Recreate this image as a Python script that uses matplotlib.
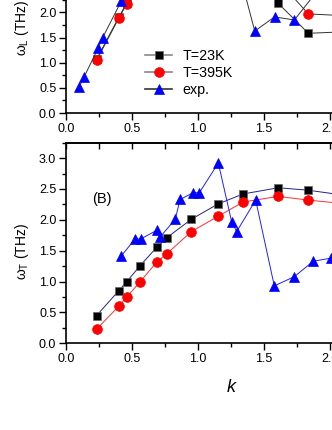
import matplotlib
matplotlib.use("Agg")
import matplotlib.pyplot as plt
from matplotlib.lines import Line2D
from matplotlib.ticker import MultipleLocator

plt.rcParams['font.family'] = ['Liberation Sans', 'DejaVu Sans']
plt.rcParams['mathtext.fontset'] = 'custom'
plt.rcParams['mathtext.rm'] = 'Liberation Sans'
plt.rcParams['mathtext.it'] = 'Liberation Sans:italic'

# ---- data (off-screen parts estimated) ----
# (A) longitudinal branch
k_sim_L = [0.232, 0.399, 0.46, 0.563, 0.689, 0.763, 0.95, 1.154, 1.343, 1.608, 1.836, 2.07, 2.3]
wL_23K = [1.07, 1.90, 2.19, 2.60, 3.00, 3.15, 3.35, 3.35, 3.10, 2.18, 1.585, 1.61, 1.95]
wL_395K = [1.05, 1.88, 2.17, 2.55, 2.90, 3.05, 3.25, 3.20, 2.95, 2.63, 1.97, 1.94, 2.1]
k_exp_L = [0.098, 0.136, 0.245, 0.278, 0.42, 0.57, 0.72, 0.90, 1.10, 1.31, 1.43, 1.58, 1.73, 1.95, 2.15]
wL_exp = [0.51, 0.71, 1.30, 1.50, 2.23, 2.80, 3.15, 3.30, 3.10, 2.82, 1.63, 1.91, 1.85, 2.58, 2.9]

# (B) transverse branch
k_sim_T = [0.232, 0.399, 0.46, 0.563, 0.689, 0.763, 0.95, 1.154, 1.343, 1.608, 1.836, 2.07, 2.3]
wT_23K = [0.45, 0.85, 1.00, 1.26, 1.56, 1.71, 2.01, 2.26, 2.42, 2.52, 2.48, 2.41, 2.35]
wT_395K = [0.23, 0.60, 0.75, 1.00, 1.32, 1.45, 1.81, 2.06, 2.29, 2.38, 2.32, 2.27, 2.2]
k_exp_T = [0.417, 0.523, 0.566, 0.687, 0.712, 0.828, 0.864, 0.964, 1.01, 1.154,
           1.255, 1.293, 1.437, 1.578, 1.73, 1.873, 2.01, 2.17]
wT_exp = [1.41, 1.69, 1.69, 1.83, 1.72, 2.01, 2.33, 2.44, 2.44, 2.92,
          1.97, 1.81, 2.32, 0.93, 1.08, 1.33, 1.38, 1.6]

labels = ['T=23K', 'T=395K', 'exp.']

W, H = 332, 430
fig = plt.figure(figsize=(W / 100, H / 100), dpi=100)

# axes placed in pixel terms; they run past the right / top edge like the cropped original
x0, x1 = 66, 396
ax1 = fig.add_axes([x0 / W, (H - 113) / H, (x1 - x0) / W, (113 + 58) / H])
ax2 = fig.add_axes([x0 / W, (H - 343.3) / H, (x1 - x0) / W, (343.3 - 142.7) / H])

sq = dict(marker='s', ms=6, mfc='black', mec='#666666', mew=0.5)
ci = dict(marker='o', ms=7, mfc='red', mec='red', mew=0.5)
tr = dict(marker='^', ms=7.5, mfc='blue', mec='blue', mew=0.5)

# top panel: dark grey connecting lines
ax1.plot(k_sim_L, wL_23K, color='#333333', lw=0.7, **sq)
ax1.plot(k_sim_L, wL_395K, color='#333333', lw=0.7, **ci)
ax1.plot(k_exp_L, wL_exp, color='#333333', lw=0.7, **tr)
ax1.set_ylim(0, 3.4)

# bottom panel: coloured lines
ax2.plot(k_sim_T, wT_23K, color='#22228a', lw=0.7, **sq)
ax2.plot(k_sim_T, wT_395K, color='#ff3030', lw=0.7, **ci)
ax2.plot(k_exp_T, wT_exp, color='#2020ff', lw=0.7, **tr)
ax2.set_ylim(0, 3.25)
ax2.text(0.27, 2.33, '(B)', fontsize=10.5, ha='center', va='center')

for ax in (ax1, ax2):
    ax.set_xlim(0, 2.5)
    ax.xaxis.set_major_locator(MultipleLocator(0.5))
    ax.xaxis.set_minor_locator(MultipleLocator(0.25))
    ax.yaxis.set_major_locator(MultipleLocator(0.5))
    ax.yaxis.set_minor_locator(MultipleLocator(0.25))
    ax.tick_params(which='major', direction='out', length=5, width=1, labelsize=9, pad=2)
    ax.tick_params(which='minor', direction='out', length=3, width=1)
    for s in ax.spines.values():
        s.set_linewidth(1.2)
    ax.xaxis.set_major_formatter(plt.FormatStrFormatter('%.1f'))
    ax.yaxis.set_major_formatter(plt.FormatStrFormatter('%.1f'))

# inward ticks on the top edge of panel B
sec = ax2.secondary_xaxis('top')
sec.xaxis.set_major_locator(MultipleLocator(0.5))
sec.xaxis.set_minor_locator(MultipleLocator(0.25))
sec.tick_params(which='both', direction='in', length=4, width=1, labeltop=False)
sec.spines['top'].set_linewidth(1.2)

ax1.set_ylabel(r'$\mathregular{\omega_L}$ (THz)', fontsize=10)
ax2.set_ylabel(r'$\mathregular{\omega_T}$ (THz)', fontsize=10)
ax1.yaxis.set_label_coords(-0.105, 0.5)
ax2.yaxis.set_label_coords(-0.105, 0.46)
ax2.set_xlabel('k', fontsize=13, style='italic', labelpad=10)

handles = [Line2D([], [], color='#888888', lw=1.2, **sq),
           Line2D([], [], color='#888888', lw=1.2, **ci),
           Line2D([], [], color='#333333', lw=1.2, **tr)]
ax1.legend(handles, labels, loc='upper left', bbox_to_anchor=(145 / W, 1 - 49 / H),
           bbox_transform=fig.transFigure, frameon=False, fontsize=10.3,
           handlelength=1.9, handletextpad=0.7, labelspacing=0.22,
           borderpad=0, borderaxespad=0, numpoints=1)

fig.savefig('out.png', dpi=100)
